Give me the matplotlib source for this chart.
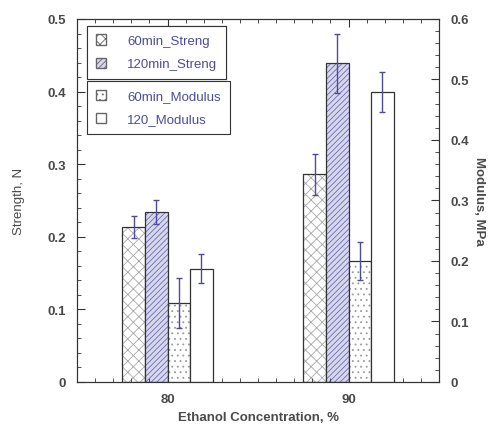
import numpy as np
import matplotlib.pyplot as plt
from matplotlib.patches import Patch
from matplotlib.ticker import MultipleLocator

plt.rcParams['font.family'] = ['Liberation Sans', 'DejaVu Sans']
plt.rcParams['hatch.linewidth'] = 0.6

# data
concentration = [80, 90]
streng_60 = [0.213, 0.286]
streng_60_err = [0.015, 0.028]
streng_120 = [0.234, 0.439]
streng_120_err = [0.016, 0.041]
modulus_60 = [0.131, 0.200]
modulus_60_err = [0.041, 0.031]
modulus_120 = [0.187, 0.479]
modulus_120_err = [0.024, 0.033]

txt = '#4a4a4a'
blue = '#4b4ba0'
width = 1.25
x = np.array(concentration, dtype=float)

fig = plt.figure(figsize=(4.92, 4.31), dpi=100)
ax = fig.add_axes([0.1565, 0.1114, 0.7358, 0.8422])
ax2 = ax.twinx()

def draw(a, pos, vals, errs, hatch, hcol, face='white'):
    a.bar(pos, vals, width, color=face, edgecolor=hcol, hatch=hatch, linewidth=0)
    a.bar(pos, vals, width, fill=False, edgecolor='#333333', linewidth=0.9)
    a.errorbar(pos, vals, yerr=errs, fmt='none', ecolor=blue, elinewidth=1.0,
               capsize=2.5, capthick=1.0)

draw(ax, x - 1.5 * width, streng_60, streng_60_err, 'xxx', '#a8a8a8')
draw(ax, x - 0.5 * width, streng_120, streng_120_err, '//////', '#6a6ab8', '#d8d8ec')
draw(ax2, x + 0.5 * width, modulus_60, modulus_60_err, '...', '#9a9a9a')
draw(ax2, x + 1.5 * width, modulus_120, modulus_120_err, None, '#333333')

ax.set_xlim(75, 95)
ax.set_ylim(0, 0.5)
ax2.set_ylim(0, 0.6)
ax.set_xticks(concentration)
ax.xaxis.set_minor_locator(MultipleLocator(1))
ax.yaxis.set_major_locator(MultipleLocator(0.1))
ax.yaxis.set_minor_locator(MultipleLocator(0.02))
ax2.yaxis.set_major_locator(MultipleLocator(0.1))
ax2.yaxis.set_minor_locator(MultipleLocator(0.02))

fmt = lambda v, p: '0' if abs(v) < 1e-9 else f'{v:.1f}'
ax.yaxis.set_major_formatter(fmt)
ax2.yaxis.set_major_formatter(fmt)

for a in (ax, ax2):
    a.tick_params(which='both', direction='in', top=True, colors='#333333',
                  labelcolor=txt, labelsize=9.5)
    a.tick_params(which='major', length=6)
    a.tick_params(which='minor', length=3)
    for lab in a.get_xticklabels() + a.get_yticklabels():
        lab.set_fontweight('bold')
    for s in a.spines.values():
        s.set_color('#333333')
ax.tick_params(axis='x', pad=8)
ax.tick_params(axis='y', pad=8)
ax2.tick_params(axis='y', pad=8)

ax.set_xlabel('Ethanol Concentration, %', fontsize=9.5, fontweight='bold', color=txt, labelpad=4)
ax.set_ylabel('Strength, N', fontsize=9.5, color=txt, labelpad=16)
ax2.set_ylabel('Modulus, MPa', fontsize=9.5, fontweight='bold', color=txt,
               rotation=270, labelpad=12)

h1 = [Patch(facecolor='white', edgecolor='#666666', hatch='xxx', label='60min_Streng'),
      Patch(facecolor='#d8d8ec', edgecolor='#666666', hatch='//////', label='120min_Streng')]
h2 = [Patch(facecolor='white', edgecolor='#666666', hatch='...', label='60min_Modulus'),
      Patch(facecolor='white', edgecolor='#666666', label='120_Modulus')]

leg_kw = dict(fontsize=9.5, fancybox=False, edgecolor='#333333', framealpha=1,
              handlelength=0.8, handleheight=0.8, handletextpad=1.6,
              labelspacing=0.8, borderpad=0.65, borderaxespad=0, labelcolor=blue)
leg1 = ax.legend(handles=h1, loc='upper left', bbox_to_anchor=(0.028, 0.981), **leg_kw)
leg1.get_frame().set_linewidth(0.8)
ax.add_artist(leg1)
leg2 = ax2.legend(handles=h2, loc='upper left', bbox_to_anchor=(0.028, 0.829), **leg_kw)
leg2.get_frame().set_linewidth(0.8)

fig.savefig('out.png', dpi=100)
